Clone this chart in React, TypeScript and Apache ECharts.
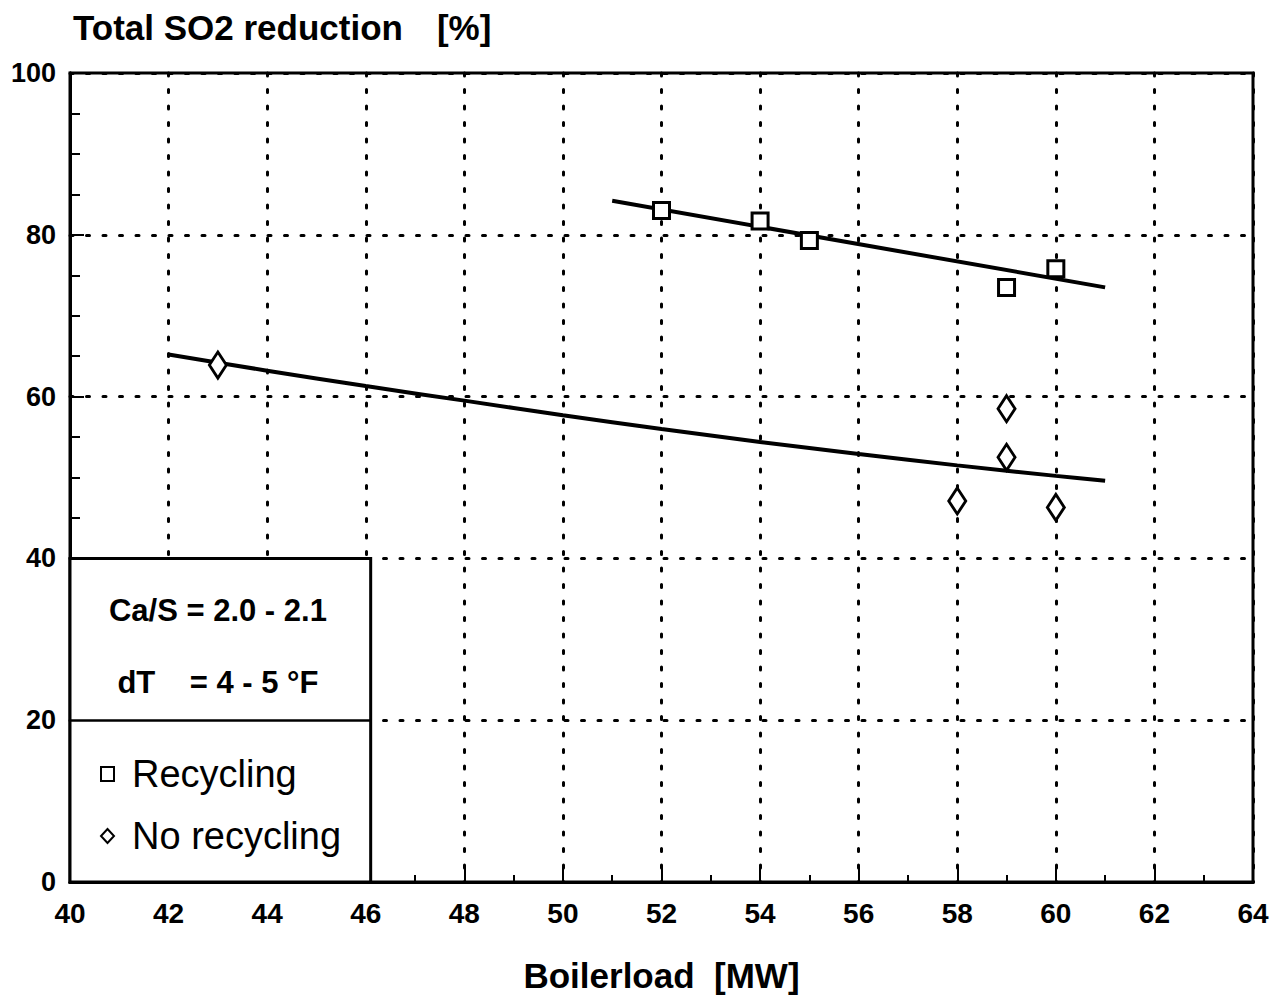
import React, { useEffect, useRef } from "react";
import * as echarts from "echarts";

const recyclingX = [52, 54, 55, 59, 60];
const recyclingY = [83.0, 81.7, 79.3, 73.5, 75.8];
const noRecyclingX = [43, 59, 59, 58, 60];
const noRecyclingY = [63.9, 58.5, 52.5, 47.1, 46.3];
const recyclingFitX = [51, 61];
const recyclingFitY = [84.2, 73.5];
const noRecyclingFitX = [42, 44, 46, 48, 50, 52, 54, 56, 58, 60, 61];
const noRecyclingFitY = [65.2, 63.2, 61.3, 59.5, 57.7, 56.0, 54.4, 52.9, 51.5, 50.2, 49.6];

const boxX = [40, 46.1];
const boxY = [0, 40];
const dividerY = 20;
const notes = ["Ca/S = 2.0 - 2.1", "dT\u00a0\u00a0\u00a0\u00a0= 4 - 5 °F"];
const notePos = [
  [43, 33.6],
  [43, 24.7],
];

const FONT = "'Liberation Sans', Arial, Helvetica, sans-serif";

const zip = (xs: number[], ys: number[]) => xs.map((x, i) => [x, ys[i]]);

export default function App() {
  const ref = useRef<HTMLDivElement>(null);
  useEffect(() => {
    if (!ref.current) return;
    const chart = echarts.init(ref.current, null, { renderer: "svg" });
    const markerStyle = { color: "#ffffff", borderColor: "#000", borderWidth: 3, opacity: 1 };
    chart.setOption({
      animation: false,
      backgroundColor: "#ffffff",
      textStyle: { fontFamily: FONT, color: "#000" },
      title: {
        text: "{a|Total SO2 reduction}{b|[%]}",
        left: 68,
        top: 5,
        textStyle: {
          rich: {
            a: { fontFamily: FONT, fontSize: 35, fontWeight: "bold", color: "#000" },
            b: { fontFamily: FONT, fontSize: 35, fontWeight: "bold", color: "#000", padding: [0, 0, 0, 34] },
          },
        },
      },
      legend: {
        orient: "vertical",
        left: 95,
        top: 749,
        itemGap: 22,
        itemWidth: 13,
        itemHeight: 14,
        data: ["Recycling", "No recycling"],
        textStyle: { fontFamily: FONT, fontSize: 38, color: "#000", padding: [0, 0, 0, 13], lineHeight: 40 },
      },
      grid: {
        left: 70,
        right: 19,
        top: 73,
        bottom: 118,
        show: true,
        borderColor: "#000",
        borderWidth: 3,
        backgroundColor: "transparent",
      },
      xAxis: {
        type: "value",
        min: 40,
        max: 64,
        interval: 2,
        name: "Boilerload  [MW]",
        nameLocation: "middle",
        nameGap: 76,
        nameTextStyle: { fontFamily: FONT, fontSize: 35, fontWeight: "bold", color: "#000" },
        axisLine: { show: true, lineStyle: { color: "#000", width: 3 } },
        axisTick: { show: true, inside: true, length: 14, lineStyle: { color: "#000", width: 2 } },
        minorTick: { show: true, splitNumber: 2, length: 7, lineStyle: { color: "#000", width: 2 } },
        axisLabel: { fontFamily: FONT, fontSize: 28, fontWeight: "bold", color: "#000", margin: 17 },
        splitLine: { show: true, lineStyle: { color: "#000", width: 3, type: [3, 13.5], cap: "round" } },
      },
      yAxis: {
        type: "value",
        min: 0,
        max: 100,
        interval: 20,
        axisLine: { show: true, lineStyle: { color: "#000", width: 3 } },
        axisTick: { show: true, inside: true, length: 14, lineStyle: { color: "#000", width: 2 } },
        minorTick: { show: true, splitNumber: 4, length: 10, lineStyle: { color: "#000", width: 2 } },
        axisLabel: { fontFamily: FONT, fontSize: 27, fontWeight: "bold", color: "#000", margin: 14 },
        splitLine: { show: true, lineStyle: { color: "#000", width: 3, type: [3, 13.5], cap: "round" } },
      },
      series: [
        {
          name: "Box",
          type: "line",
          data: [],
          silent: true,
          markArea: {
            silent: true,
            itemStyle: { color: "#ffffff", borderColor: "#000", borderWidth: 3, opacity: 1 },
            label: { show: false },
            data: [[{ coord: [boxX[0], boxY[0]] }, { coord: [boxX[1], boxY[1]] }]],
          },
          markLine: {
            silent: true,
            symbol: "none",
            label: { show: false },
            lineStyle: { color: "#000", width: 2.5, type: "solid", opacity: 1 },
            data: [[{ coord: [boxX[0], dividerY] }, { coord: [boxX[1], dividerY] }]],
          },
          markPoint: {
            silent: true,
            symbol: "circle",
            symbolSize: 0,
            label: {
              show: true,
              position: "inside",
              fontFamily: FONT,
              fontSize: 31,
              fontWeight: "bold",
              color: "#000",
              formatter: (p: any) => p.name,
            },
            data: notes.map((t, i) => ({ name: t, coord: notePos[i] })),
          },
          z: 3,
        },
        {
          name: "Recycling fit",
          type: "line",
          data: zip(recyclingFitX, recyclingFitY),
          showSymbol: false,
          symbol: "none",
          lineStyle: { color: "#000", width: 4 },
          z: 4,
        },
        {
          name: "No recycling fit",
          type: "line",
          data: zip(noRecyclingFitX, noRecyclingFitY),
          showSymbol: false,
          symbol: "none",
          smooth: 0.3,
          lineStyle: { color: "#000", width: 4 },
          z: 4,
        },
        {
          name: "Recycling",
          type: "scatter",
          symbol: "rect",
          symbolSize: 16,
          itemStyle: markerStyle,
          data: zip(recyclingX, recyclingY),
          z: 5,
        },
        {
          name: "No recycling",
          type: "scatter",
          symbol: "diamond",
          symbolSize: [17, 26],
          itemStyle: markerStyle,
          data: zip(noRecyclingX, noRecyclingY),
          z: 5,
        },
      ],
    });
    return () => chart.dispose();
  }, []);
  return (
    <div
      ref={ref}
      style={{ position: "fixed", left: 0, top: 0, width: 1272, height: 1000, background: "#fff" }}
    />
  );
}
